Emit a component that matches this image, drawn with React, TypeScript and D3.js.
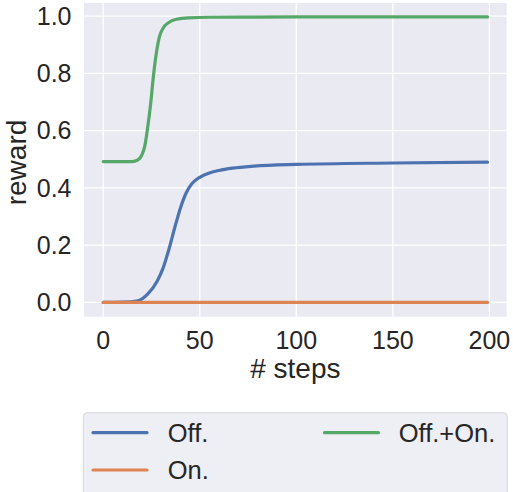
import React from "react";
import * as d3 from "d3";

const offSteps = [0, 10, 18, 23, 28, 31, 34, 37, 40, 43, 46, 50, 55, 60, 67, 78, 100, 150, 199];
const offValues = [0, 0.001, 0.006, 0.029, 0.075, 0.12, 0.185, 0.26, 0.33, 0.383, 0.415, 0.437, 0.452, 0.461, 0.469, 0.476, 0.482, 0.487, 0.49];

const onSteps = [0, 50, 100, 150, 199];
const onValues = [0, 0, 0, 0, 0];

const offOnSteps = [0, 15, 18, 20, 21.5, 23, 24.5, 26, 27.5, 29, 31, 34, 38, 44, 55, 100, 199];
const offOnValues = [0.492, 0.492, 0.498, 0.515, 0.545, 0.61, 0.69, 0.79, 0.87, 0.925, 0.958, 0.978, 0.989, 0.994, 0.996, 0.997, 0.997];

const xTicks = [0, 50, 100, 150, 200];
const yTicks = [0.0, 0.2, 0.4, 0.6, 0.8, 1.0];

const seriesNames = ["Off.", "On.", "Off.+On."];
const seriesColors = ["#4C72B0", "#DD8452", "#55A868"];

const FONT = "'Liberation Sans', Arial, sans-serif";
const TXT = "#262626";

export default function App() {
  const W = 513, H = 492;
  const left = 84, right = 506.7, top = 3, bottom = 316.7;
  const x = d3.scaleLinear().domain([-9.95, 208.95]).range([left, right]);
  const y = d3.scaleLinear().domain([-0.0498, 1.0458]).range([bottom, top]);

  const series = [
    { s: offSteps, v: offValues },
    { s: onSteps, v: onValues },
    { s: offOnSteps, v: offOnValues },
  ];
  const line = d3
    .line<[number, number]>()
    .x((d) => x(d[0]))
    .y((d) => y(d[1]))
    .curve(d3.curveMonotoneX);

  const legendItems = [
    { i: 0, lx: 93, ly: 432.7 },
    { i: 1, lx: 93, ly: 470 },
    { i: 2, lx: 324.5, ly: 432.7 },
  ];

  return (
    <svg width={W} height={H} style={{ position: "absolute", left: 0, top: 0 }} fontFamily={FONT}>
      <rect x={0} y={0} width={W} height={H} fill="#ffffff" />
      <rect x={left} y={top} width={right - left} height={bottom - top} fill="#EAEAF2" />
      {xTicks.map((t) => (
        <line key={"gx" + t} x1={x(t)} x2={x(t)} y1={top} y2={bottom} stroke="#ffffff" strokeWidth={1.3} />
      ))}
      {yTicks.map((t) => (
        <line key={"gy" + t} x1={left} x2={right} y1={y(t)} y2={y(t)} stroke="#ffffff" strokeWidth={1.3} />
      ))}
      {series.map((sr, i) => (
        <path
          key={"s" + i}
          d={line(sr.s.map((s, k) => [s, sr.v[k]] as [number, number])) || ""}
          fill="none"
          stroke={seriesColors[i]}
          strokeWidth={3.2}
          strokeLinecap="round"
        />
      ))}
      {xTicks.map((t) => (
        <text key={"tx" + t} x={x(t)} y={348.5} textAnchor="middle" fontSize={25} fill={TXT}>
          {t}
        </text>
      ))}
      {yTicks.map((t) => (
        <text key={"ty" + t} x={71.5} y={y(t)} dy="0.35em" textAnchor="end" fontSize={25} fill={TXT}>
          {t.toFixed(1)}
        </text>
      ))}
      <text x={(left + right) / 2} y={378} textAnchor="middle" fontSize={28} fill={TXT}>
        # steps
      </text>
      <text transform={`translate(26,162.5) rotate(-90)`} textAnchor="middle" fontSize={28} fill={TXT}>
        reward
      </text>
      <rect x={83.3} y={412.7} width={424} height={100} rx={4} ry={4} fill="#EEEEF5" stroke="#D6D6DC" strokeWidth={1} />
      {legendItems.map((it) => (
        <g key={"l" + it.i}>
          <line x1={it.lx} x2={it.lx + 54} y1={it.ly} y2={it.ly} stroke={seriesColors[it.i]} strokeWidth={3.2} strokeLinecap="round" />
          <text x={167.7 + (it.i === 2 ? 231 : 0)} y={it.ly} dy="0.35em" fontSize={25.5} fill={TXT}>
            {seriesNames[it.i]}
          </text>
        </g>
      ))}
    </svg>
  );
}
